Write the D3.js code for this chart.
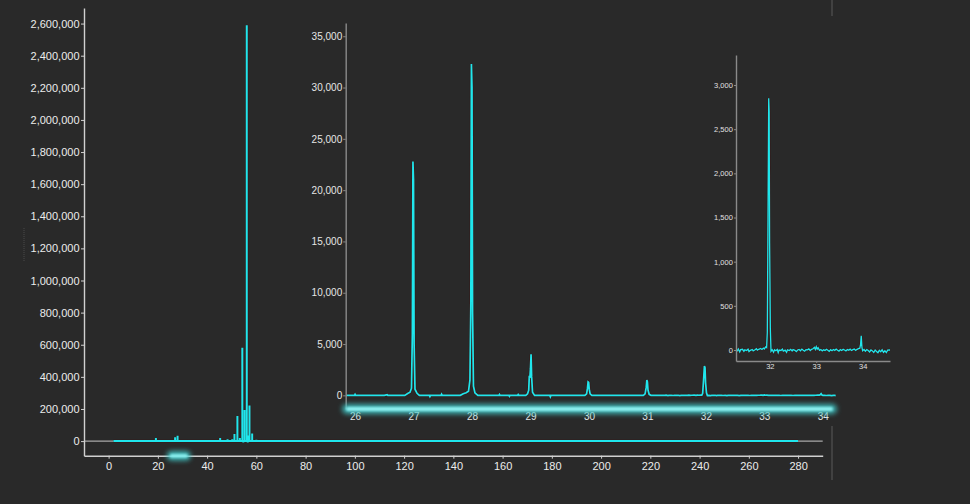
<!DOCTYPE html>
<html><head><meta charset="utf-8">
<script src="https://cdn.jsdelivr.net/npm/d3@7"></script>
<style>
html,body{margin:0;padding:0;background:#292929;}
svg{display:block;font-family:Roboto,"Noto Sans",sans-serif;}
</style>
</head><body>
<svg id="c" width="970" height="504"></svg>
<script>
// ---------- data ----------
const mainTicksX = [0,20,40,60,80,100,120,140,160,180,200,220,240,260,280];
const mainTicksY = [0,200000,400000,600000,800000,1000000,1200000,1400000,1600000,1800000,2000000,2200000,2400000,2600000];
const spectrumStart = 2, spectrumEnd = 280;
const peakMz        = [18.1, 19.2, 27.0, 28.0, 29.0, 32.0, 45.3, 48.3, 50.2, 51.1, 52.3, 53.3, 54.3, 54.7, 55.2, 56.1, 56.5, 56.6, 57.2, 58.3, 59.2, 60.0, 63.2, 74.3, 90.1, 93.2, 181.1];
const peakIntensity = [5000, 20000, 24000, 34000, 5000, 3000, 20000, 12000, 12000, 44000, 157000, 20000, 581000, -9000, 194000, 2590000, -9000, 35000, 222000, 48000, 6000, 8000, 5000, 5000, 4000, 4000, 3000];
const brushExtent = [24.5, 32.5];

const inset1TicksX = [26,27,28,29,30,31,32,33,34];
const inset1TicksY = [0,5000,10000,15000,20000,25000,30000,35000];
const inset2TicksX = [32,33,34];
const inset2TicksY = [0,500,1000,1500,2000,2500,3000];

const profilePoints = [
 [25.84,0],[25.99,0],[26.0,110],[26.01,0],[26.5,0],[26.55,60],[26.56,0],
 [26.85,0],[26.9,180],[26.94,300],[26.965,700],[26.98,6000],[26.99,22800],[27.0,21000],[27.01,5000],[27.025,600],[27.06,200],[27.1,0],
 [27.27,0],[27.28,-120],[27.29,0],[27.47,0],[27.48,120],[27.49,0],
 [27.8,0],[27.85,150],[27.9,250],[27.94,400],[27.965,1500],[27.98,9000],[27.99,32300],[28.0,30000],[28.01,8000],[28.025,900],[28.05,250],[28.1,0],
 [28.46,0],[28.47,90],[28.48,0],[28.63,0],[28.64,-100],[28.65,0],[28.78,0],[28.79,80],[28.8,0],
 [28.92,0],[28.95,150],[28.97,500],[28.98,1900],[28.99,1700],[29.0,2600],[29.01,4000],[29.02,1800],[29.035,300],[29.07,0],
 [29.33,0],[29.34,-140],[29.35,0],
 [29.93,0],[29.96,150],[29.975,700],[29.985,1300],[29.995,1250],[30.005,600],[30.02,150],[30.05,0],
 [30.93,0],[30.96,150],[30.98,800],[30.99,1500],[31.0,1300],[31.01,500],[31.03,100],[31.06,0],
 [31.27,5],[31.3,-8],[31.32,12],[31.35,-22],[31.37,4],[31.41,8],[31.44,-14],[31.46,2],[31.5,-6],[31.53,10],
 [31.55,-18],[31.58,-4],[31.62,6],[31.64,-10],[31.68,3],[31.71,14],[31.73,-2],[31.76,8],[31.8,18],[31.83,6],
 [31.86,22],[31.88,12],[31.91,35],[31.93,28],[31.945,200],[31.96,1500],[31.975,2850],[31.985,2700],[31.995,1200],[32.01,250],
 [32.025,-15],[32.05,4],[32.08,-25],[32.1,2],[32.13,-8],[32.16,6],[32.18,-30],[32.2,0],[32.24,-5],[32.27,10],
 [32.29,-12],[32.33,-2],[32.36,-26],[32.38,2],[32.42,-6],[32.45,8],[32.48,-10],[32.5,4],[32.54,-4],[32.57,-18],
 [32.6,0],[32.63,6],[32.66,-8],[32.69,10],[32.72,-3],[32.75,-14],[32.78,4],[32.81,2],[32.84,12],[32.87,-6],
 [32.9,8],[32.93,14],[32.96,30],[32.98,6],[33.0,38],[33.02,10],[33.04,25],[33.07,-4],[33.1,6],[33.13,-10],
 [33.16,2],[33.19,-6],[33.22,8],[33.25,-2],[33.28,-16],[33.31,4],[33.34,-8],[33.37,6],[33.4,-4],[33.43,10],
 [33.46,-2],[33.49,-12],[33.52,4],[33.55,-6],[33.58,8],[33.61,0],[33.64,-10],[33.67,6],[33.7,-2],[33.73,10],
 [33.76,-6],[33.79,4],[33.82,12],[33.85,-4],[33.88,8],[33.91,16],[33.94,20],[33.955,60],[33.97,160],[33.985,30],
 [34.0,-8],[34.03,6],[34.06,-14],[34.09,4],[34.12,-6],[34.15,-22],[34.18,2],[34.21,-10],[34.24,-28],[34.27,0],
 [34.3,-16],[34.33,-30],[34.36,-4],[34.39,-20],[34.42,2],[34.45,-26],[34.48,-8],[34.51,-30],[34.54,-2],[34.59,0]
];

// ---------- drawing ----------
const svg = d3.select("#c");
const CYAN = "#1fe6ec";
const fmt = d3.format(",");

const defs = svg.append("defs");
const f = defs.append("filter").attr("id","glow").attr("x","-20%").attr("y","-200%").attr("width","140%").attr("height","500%");
f.append("feGaussianBlur").attr("stdDeviation",2.8);
const f2 = defs.append("filter").attr("id","glow2").attr("x","-20%").attr("y","-200%").attr("width","140%").attr("height","500%");
f2.append("feGaussianBlur").attr("stdDeviation",1);

// faint chrome lines
svg.append("line").attr("x1",832).attr("x2",832).attr("y1",0).attr("y2",16).attr("stroke","#4a4a4a").attr("stroke-width",1.5);
svg.append("line").attr("x1",832).attr("x2",832).attr("y1",426).attr("y2",480).attr("stroke","#4a4a4a").attr("stroke-width",1.5);
svg.append("line").attr("x1",24).attr("x2",24).attr("y1",228).attr("y2",262).attr("stroke","#4a4a4a").attr("stroke-dasharray","1,1");

function styleAxis(g, color, textColor, size){
  g.select(".domain").attr("stroke",color).attr("stroke-width",1.4);
  g.selectAll(".tick line").attr("stroke",color);
  g.selectAll(".tick text").attr("fill",textColor).attr("font-size",size);
}

// main chart
const x = d3.scaleLinear().domain([-10,290]).range([84,822.7]);
const y = d3.scaleLinear().domain([-91000,2697000]).range([455.7,8]);

svg.append("line").attr("x1",84).attr("x2",822.7).attr("y1",y(0)).attr("y2",y(0)).attr("stroke","#a8a8a8").attr("stroke-width",1.2);

const mainPts = [[spectrumStart,0]];
peakMz.forEach((m,i)=>{ mainPts.push([m,0],[m,peakIntensity[i]],[m,0]); });
mainPts.push([spectrumEnd,0]);
const mainLine = d3.line().x(d=>x(d[0])).y(d=>y(d[1]));
svg.append("path").attr("d",mainLine(mainPts)).attr("fill","none").attr("stroke","#3a1414").attr("stroke-width",3.4).attr("opacity",0.6);
svg.append("path").attr("d",mainLine(mainPts)).attr("fill","none").attr("stroke",CYAN).attr("stroke-width",2);

const gy = svg.append("g").attr("transform","translate(84,0)")
  .call(d3.axisLeft(y).tickValues(mainTicksY).tickFormat(fmt).tickSize(3).tickSizeOuter(0).tickPadding(1.5));
styleAxis(gy,"#d0d0d0","#ececec",11);
const gx = svg.append("g").attr("transform","translate(0,455.7)")
  .call(d3.axisBottom(x).tickValues(mainTicksX).tickFormat(d3.format("d")).tickSize(3).tickSizeOuter(0).tickPadding(3.5));
styleAxis(gx,"#d0d0d0","#ececec",11);

// brush highlight on main x axis
svg.append("rect").attr("x",x(brushExtent[0])-2).attr("y",451).attr("width",x(brushExtent[1])-x(brushExtent[0])+4).attr("height",9.5)
  .attr("rx",4.5).attr("fill","#3fc6c6").attr("opacity",0.9).attr("filter","url(#glow)");
svg.append("rect").attr("x",x(brushExtent[0])+1).attr("y",454.2).attr("width",x(brushExtent[1])-x(brushExtent[0])-2).attr("height",3.2)
  .attr("rx",1.5).attr("fill","#8ef0f0").attr("filter","url(#glow2)");

// inset 1
const x1 = d3.scaleLinear().domain([25.84,34.22]).range([345.7,835.7]);
const y1 = d3.scaleLinear().domain([-1330,36290]).range([409,23]);
defs.append("clipPath").attr("id","clip1").append("rect").attr("x",345.7).attr("y",0).attr("width",490).attr("height",409);
const line1 = d3.line().x(d=>x1(d[0])).y(d=>y1(d[1]));
svg.append("path").attr("d",line1(profilePoints)).attr("clip-path","url(#clip1)").attr("fill","none").attr("stroke","#3a1414").attr("stroke-width",3).attr("opacity",0.6);
svg.append("path").attr("d",line1(profilePoints)).attr("clip-path","url(#clip1)").attr("fill","none").attr("stroke",CYAN).attr("stroke-width",1.7);

const gy1 = svg.append("g").attr("transform","translate(345.7,0)")
  .call(d3.axisLeft(y1).tickValues(inset1TicksY).tickFormat(fmt).tickSize(2.5).tickSizeOuter(0).tickPadding(1));
styleAxis(gy1,"#8a8a8a","#e6e6e6",10);
const gx1 = svg.append("g").attr("transform","translate(0,409)")
  .call(d3.axisBottom(x1).tickValues(inset1TicksX).tickFormat(d3.format("d")).tickSize(0).tickPadding(4));
gx1.select(".domain").remove();
gx1.selectAll(".tick text").attr("fill","#e6e6e6").attr("font-size",10);

// glow band as inset 1 x axis
svg.append("rect").attr("x",342).attr("y",404).attr("width",495).attr("height",10).attr("rx",5)
  .attr("fill","#3fc6c6").attr("opacity",0.85).attr("filter","url(#glow)");
svg.append("rect").attr("x",346).attr("y",407).attr("width",487).attr("height",4).attr("rx",2)
  .attr("fill","#8ef0f0").attr("filter","url(#glow2)");

// inset 2
const x2 = d3.scaleLinear().domain([31.27,34.59]).range([736,890]);
const y2 = d3.scaleLinear().domain([-124.5,3340]).range([361,55]);
defs.append("clipPath").attr("id","clip2").append("rect").attr("x",736).attr("y",55).attr("width",154).attr("height",306);
const line2 = d3.line().x(d=>x2(d[0])).y(d=>y2(d[1]));
svg.append("path").attr("d",line2(profilePoints)).attr("clip-path","url(#clip2)").attr("fill","none").attr("stroke","#3a1414").attr("stroke-width",2.6).attr("opacity",0.6);
svg.append("path").attr("d",line2(profilePoints)).attr("clip-path","url(#clip2)").attr("fill","none").attr("stroke",CYAN).attr("stroke-width",1.3);

const gy2 = svg.append("g").attr("transform","translate(736,0)")
  .call(d3.axisLeft(y2).tickValues(inset2TicksY).tickFormat(fmt).tickSize(2).tickSizeOuter(0).tickPadding(1.2));
styleAxis(gy2,"#8a8a8a","#e0e0e0",7.5);
const gx2 = svg.append("g").attr("transform","translate(0,361)")
  .call(d3.axisBottom(x2).tickValues(inset2TicksX).tickFormat(d3.format("d")).tickSize(2).tickSizeOuter(0).tickPadding(1));
styleAxis(gx2,"#8a8a8a","#e0e0e0",7.5);
</script>
</body></html>
